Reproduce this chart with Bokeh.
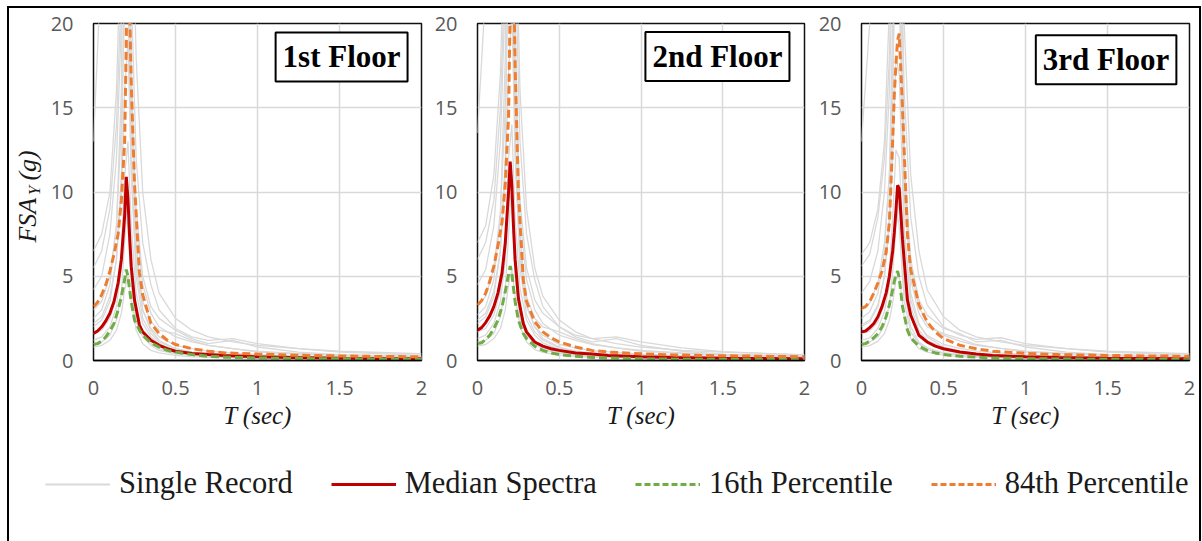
import math

from bokeh.embed import file_html
from bokeh.layouts import column, row
from bokeh.models import FixedTicker, Label, Legend, LegendItem, Range1d
from bokeh.plotting import figure
from bokeh.resources import INLINE

# ---- period grids (sec) ----
T_STAT = [0, 0.025, 0.05, 0.075, 0.1, 0.125, 0.15, 0.17, 0.19, 0.2, 0.21, 0.22, 0.23,
          0.25, 0.28, 0.3, 0.35, 0.4, 0.45, 0.5, 0.6, 0.7, 0.8, 1.0, 1.2, 1.5, 1.75, 2.0]
T_REC = [0, 0.05, 0.1, 0.14, 0.17, 0.19, 0.21, 0.23, 0.26, 0.3, 0.35, 0.4, 0.5, 0.6,
         0.7, 0.85, 1.0, 1.25, 1.5, 2.0]

X_TICKS = [0, 0.5, 1, 1.5, 2]
X_TICK_LABELS = ["0", "0.5", "1", "1.5", "2"]
Y_TICKS = [0, 5, 10, 15, 20]
Y_TICK_LABELS = ["0", "5", "10", "15", "20"]

FLOORS = ["1st Floor", "2nd Floor", "3rd Floor"]
SERIES_NAMES = ["Single Record", "Median Spectra", "16th Percentile", "84th Percentile"]

# ---- 1st floor ----
MED_1 = [1.6, 1.75, 2.0, 2.35, 2.8, 3.5, 4.6, 6.0, 8.6, 10.9, 9.6, 7.4, 5.6,
         3.6, 2.1, 1.7, 1.2, 0.9, 0.7, 0.55, 0.42, 0.35, 0.3, 0.22, 0.18, 0.14, 0.12, 0.1]
P84_1 = [3.2, 3.45, 3.9, 4.5, 5.3, 6.3, 7.5, 9.5, 13.0, 19.0, 28.0, 21.0, 16.5,
         10.5, 5.2, 3.9, 2.2, 1.6, 1.2, 0.95, 0.7, 0.55, 0.45, 0.38, 0.32, 0.27, 0.24, 0.22]
P16_1 = [0.95, 1.0, 1.15, 1.4, 1.75, 2.2, 3.0, 3.8, 4.8, 5.4, 5.0, 4.2, 3.5,
         2.4, 1.8, 1.5, 1.05, 0.8, 0.6, 0.5, 0.35, 0.25, 0.2, 0.15, 0.12, 0.1, 0.09, 0.08]
R1_01 = [13.0, 24, 32, 38, 42, 45, 40, 30, 18, 10, 6.0, 4.0, 2.5, 1.8, 1.4, 1.1, 0.9, 0.7, 0.55, 0.4]
R1_02 = [5.5, 6.5, 9.0, 14, 22, 30, 26, 15, 8.0, 4.5, 2.8, 2.0, 1.4, 1.1, 0.9, 0.7, 0.55, 0.4, 0.3, 0.2]
R1_03 = [2.0, 2.4, 3.5, 6.0, 11, 25, 35, 18, 7.0, 3.0, 1.8, 1.2, 0.7, 0.5, 0.4, 0.3, 0.25, 0.2, 0.15, 0.1]
R1_04 = [1.2, 1.4, 2.0, 3.2, 5.5, 9.0, 8.0, 4.5, 2.3, 1.4, 0.9, 0.6, 0.4, 0.3, 0.25, 0.2, 0.15, 0.12, 0.1, 0.08]
R1_05 = [3.0, 3.5, 5.0, 8.0, 14, 21, 24, 16, 9.0, 5.0, 3.2, 2.5, 1.8, 1.3, 1.0, 1.2, 0.8, 0.5, 0.35, 0.25]
R1_06 = [0.8, 0.9, 1.2, 1.8, 2.8, 4.2, 5.0, 3.5, 1.8, 1.0, 0.6, 0.45, 0.3, 0.22, 0.18, 0.15, 0.12, 0.1, 0.08, 0.06]
R1_07 = [2.5, 3.0, 4.5, 8.0, 16, 40, 30, 12, 5.0, 2.5, 1.6, 1.1, 0.7, 0.5, 0.4, 0.35, 0.3, 0.25, 0.2, 0.15]
R1_08 = [1.6, 1.8, 2.5, 3.8, 6.5, 11, 13, 8.0, 4.0, 2.2, 1.4, 1.0, 0.6, 0.45, 0.35, 0.3, 0.22, 0.18, 0.14, 0.1]
R1_09 = [4.2, 5.0, 7.5, 12, 20, 28, 22, 12, 6.0, 3.5, 2.3, 1.8, 1.6, 1.2, 0.9, 0.7, 0.5, 0.4, 0.3, 0.2]
R1_10 = [1.0, 1.1, 1.5, 2.4, 4.0, 7.0, 10, 6.0, 3.0, 1.6, 1.0, 0.7, 0.45, 0.35, 0.28, 0.22, 0.18, 0.14, 0.11, 0.08]
R1_11 = [6.5, 7.5, 10, 16, 26, 35, 32, 22, 12, 7.0, 4.5, 3.0, 1.9, 1.4, 1.2, 1.3, 1.0, 0.7, 0.5, 0.3]
R1_12 = [2.2, 2.6, 3.8, 6.0, 10, 16, 19, 11, 5.5, 3.0, 1.9, 1.4, 0.9, 0.7, 0.55, 0.45, 0.35, 0.28, 0.22, 0.15]

# ---- 2nd floor ----
MED_2 = [1.8, 1.95, 2.25, 2.65, 3.2, 4.0, 5.2, 7.0, 10.0, 11.8, 10.4, 8.0, 6.0,
         3.7, 2.2, 1.7, 1.1, 0.85, 0.7, 0.6, 0.45, 0.38, 0.3, 0.22, 0.18, 0.14, 0.12, 0.1]
P84_2 = [3.3, 3.55, 4.0, 4.7, 5.6, 6.8, 8.2, 10.5, 14.5, 21.0, 30.0, 24.0, 17.5,
         10.0, 4.8, 3.5, 2.3, 1.7, 1.35, 1.1, 0.8, 0.6, 0.5, 0.4, 0.33, 0.28, 0.25, 0.22]
P16_2 = [1.0, 1.05, 1.25, 1.5, 1.9, 2.4, 3.2, 4.1, 5.1, 5.6, 5.2, 4.3, 3.5,
         2.4, 1.6, 1.3, 0.85, 0.6, 0.45, 0.35, 0.25, 0.18, 0.15, 0.1, 0.08, 0.07, 0.06, 0.05]
R2_01 = [13.5, 22, 30, 36, 40, 44, 38, 28, 16, 9.0, 5.5, 3.8, 2.4, 1.7, 1.3, 1.0, 0.8, 0.6, 0.5, 0.35]
R2_02 = [6.0, 7.0, 9.5, 15, 24, 33, 28, 16, 8.5, 4.8, 3.0, 2.2, 1.5, 1.2, 0.95, 0.75, 0.6, 0.45, 0.32, 0.22]
R2_03 = [2.2, 2.6, 3.8, 6.5, 12, 28, 38, 20, 7.5, 3.3, 2.0, 1.3, 0.8, 0.55, 0.45, 0.35, 0.28, 0.22, 0.16, 0.11]
R2_04 = [1.3, 1.5, 2.2, 3.5, 6.0, 10, 9.0, 5.0, 2.5, 1.5, 1.0, 0.65, 0.42, 0.32, 0.26, 0.2, 0.16, 0.13, 0.1, 0.08]
R2_05 = [3.3, 3.8, 5.5, 8.8, 15, 23, 26, 17, 9.5, 5.5, 3.6, 2.8, 2.0, 1.4, 1.1, 1.3, 0.9, 0.55, 0.38, 0.26]
R2_06 = [0.85, 0.95, 1.3, 1.9, 3.0, 4.5, 5.4, 3.8, 2.0, 1.1, 0.65, 0.48, 0.32, 0.24, 0.19, 0.16, 0.13, 0.1, 0.08, 0.06]
R2_07 = [2.7, 3.2, 4.8, 8.5, 18, 45, 33, 13, 5.5, 2.7, 1.7, 1.2, 0.75, 0.55, 0.42, 0.38, 0.32, 0.26, 0.2, 0.15]
R2_08 = [1.7, 1.9, 2.7, 4.1, 7.0, 12, 14, 8.5, 4.3, 2.4, 1.5, 1.05, 0.65, 0.48, 0.38, 0.32, 0.24, 0.19, 0.15, 0.1]
R2_09 = [4.5, 5.4, 8.0, 13, 22, 30, 24, 13, 6.5, 3.8, 2.5, 2.0, 1.7, 1.3, 1.0, 0.75, 0.55, 0.42, 0.32, 0.22]
R2_10 = [1.1, 1.2, 1.6, 2.6, 4.3, 7.5, 11, 6.5, 3.2, 1.7, 1.05, 0.75, 0.48, 0.37, 0.3, 0.24, 0.19, 0.15, 0.12, 0.09]
R2_11 = [7.0, 8.0, 11, 17, 28, 38, 34, 24, 13, 7.5, 4.8, 3.2, 2.0, 1.5, 1.3, 1.4, 1.1, 0.75, 0.52, 0.32]
R2_12 = [2.4, 2.8, 4.1, 6.5, 11, 17, 21, 12, 6.0, 3.2, 2.0, 1.5, 0.95, 0.75, 0.58, 0.48, 0.37, 0.3, 0.23, 0.16]

# ---- 3rd floor ----
MED_3 = [1.7, 1.75, 1.95, 2.2, 2.6, 3.2, 4.0, 5.0, 6.5, 7.6, 8.9, 10.4, 10.2,
         7.2, 3.6, 2.7, 1.5, 1.1, 0.85, 0.7, 0.5, 0.38, 0.3, 0.22, 0.18, 0.14, 0.12, 0.1]
P84_3 = [3.1, 3.2, 3.5, 4.0, 4.6, 5.3, 6.4, 8.2, 13.0, 15.8, 17.6, 19.0, 19.4,
         15.0, 7.5, 5.4, 3.3, 2.3, 1.7, 1.3, 0.9, 0.7, 0.55, 0.42, 0.35, 0.3, 0.27, 0.25]
P16_3 = [0.95, 1.0, 1.15, 1.35, 1.6, 2.0, 2.6, 3.3, 4.2, 4.7, 5.1, 5.3, 4.9,
         3.2, 1.8, 1.35, 0.85, 0.6, 0.45, 0.35, 0.25, 0.2, 0.15, 0.11, 0.09, 0.07, 0.06, 0.05]
R3_01 = [13.0, 20, 27, 33, 38, 42, 44, 34, 20, 11, 6.5, 4.2, 2.6, 1.8, 1.4, 1.1, 0.9, 0.7, 0.55, 0.4]
R3_02 = [5.6, 6.3, 8.5, 12, 18, 26, 32, 24, 11, 5.5, 3.2, 2.2, 1.5, 1.15, 0.9, 0.72, 0.56, 0.42, 0.3, 0.2]
R3_03 = [2.0, 2.3, 3.2, 5.0, 8.5, 15, 30, 36, 12, 4.0, 2.2, 1.4, 0.8, 0.55, 0.42, 0.32, 0.26, 0.2, 0.15, 0.1]
R3_04 = [1.2, 1.35, 1.9, 2.9, 4.5, 6.5, 9.0, 8.0, 3.5, 1.7, 1.0, 0.65, 0.42, 0.3, 0.25, 0.2, 0.15, 0.12, 0.1, 0.08]
R3_05 = [3.0, 3.4, 4.6, 7.0, 11, 17, 25, 22, 12, 6.0, 3.6, 2.7, 1.9, 1.6, 1.1, 1.2, 0.8, 0.5, 0.35, 0.25]
R3_06 = [0.8, 0.88, 1.15, 1.6, 2.4, 3.4, 4.8, 5.0, 2.6, 1.3, 0.7, 0.5, 0.32, 0.23, 0.18, 0.15, 0.12, 0.1, 0.08, 0.06]
R3_07 = [2.5, 2.9, 4.0, 6.5, 11, 20, 42, 28, 8.0, 3.2, 1.8, 1.2, 0.75, 0.52, 0.4, 0.35, 0.3, 0.25, 0.2, 0.15]
R3_08 = [1.6, 1.75, 2.3, 3.4, 5.3, 8.5, 12.5, 12, 5.5, 2.6, 1.5, 1.05, 0.62, 0.46, 0.36, 0.3, 0.22, 0.18, 0.14, 0.1]
R3_09 = [4.0, 4.7, 6.5, 10, 16, 24, 30, 22, 10, 4.8, 2.8, 2.0, 1.6, 1.3, 0.95, 0.72, 0.5, 0.4, 0.3, 0.2]
R3_10 = [1.0, 1.1, 1.4, 2.1, 3.3, 5.2, 8.0, 9.5, 4.2, 2.0, 1.1, 0.75, 0.46, 0.36, 0.28, 0.22, 0.18, 0.14, 0.11, 0.08]
R3_11 = [6.3, 7.0, 9.0, 13, 21, 30, 38, 30, 16, 8.5, 5.0, 3.3, 2.0, 1.5, 1.25, 1.35, 1.0, 0.7, 0.5, 0.3]
R3_12 = [2.1, 2.4, 3.3, 5.0, 8.0, 12, 18, 17, 7.5, 3.6, 2.1, 1.5, 0.95, 0.72, 0.56, 0.45, 0.35, 0.28, 0.22, 0.15]

RECORDS_1 = [R1_01, R1_02, R1_03, R1_04, R1_05, R1_06, R1_07, R1_08, R1_09, R1_10, R1_11, R1_12]
RECORDS_2 = [R2_01, R2_02, R2_03, R2_04, R2_05, R2_06, R2_07, R2_08, R2_09, R2_10, R2_11, R2_12]
RECORDS_3 = [R3_01, R3_02, R3_03, R3_04, R3_05, R3_06, R3_07, R3_08, R3_09, R3_10, R3_11, R3_12]

# ---- styling ----
GRAY = "#d9d9d9"
RED = "#c00000"
GREEN = "#70ad47"
ORANGE = "#ed7d31"
DASH = "8 4"
TICK_FONT = "Open Sans"
SERIF = "Liberation Serif"
TEXT_DARK = "#1a1a1a"
TICK_COLOR = "#595959"

PANEL_H = 432
FRAME_TOP = 15
FRAME_BOTTOM = 80


def make_panel(title, records, med, p16, p84, width, left, right, title_pos):
    p = figure(width=width, height=PANEL_H, x_range=Range1d(0, 2), y_range=Range1d(0, 20),
               output_backend="svg", toolbar_location=None,
               min_border_left=left, min_border_right=right,
               min_border_top=FRAME_TOP, min_border_bottom=FRAME_BOTTOM)
    p.background_fill_color = "white"
    p.border_fill_color = "white"
    p.outline_line_color = "#111111"
    p.outline_line_width = 1.5

    p.xaxis.ticker = FixedTicker(ticks=X_TICKS)
    p.yaxis.ticker = FixedTicker(ticks=Y_TICKS)
    p.xaxis.major_label_overrides = dict(zip(X_TICKS, X_TICK_LABELS))
    p.yaxis.major_label_overrides = dict(zip(Y_TICKS, Y_TICK_LABELS))
    for ax in (p.xaxis[0], p.yaxis[0]):
        ax.major_tick_line_color = None
        ax.minor_tick_line_color = None
        ax.major_tick_out = 0
        ax.major_tick_in = 0
        ax.minor_tick_out = 0
        ax.minor_tick_in = 0
        ax.major_label_text_font = TICK_FONT
        ax.major_label_text_font_size = "20px"
        ax.major_label_text_color = TICK_COLOR
    p.yaxis.axis_line_color = None
    p.yaxis.major_label_standoff = 20
    p.xaxis.axis_line_color = "black"
    p.xaxis.axis_line_width = 1.5
    p.xaxis.major_label_standoff = 20
    p.xaxis.axis_label = "T (sec)"
    p.xaxis.axis_label_text_font = SERIF
    p.xaxis.axis_label_text_font_style = "italic"
    p.xaxis.axis_label_text_font_size = "25px"
    p.xaxis.axis_label_text_color = TEXT_DARK
    p.xaxis.axis_label_standoff = 4

    p.xgrid.ticker = FixedTicker(ticks=X_TICKS)
    p.ygrid.ticker = FixedTicker(ticks=Y_TICKS)
    p.grid.grid_line_color = GRAY
    p.grid.grid_line_width = 1.5

    p.multi_line(xs=[T_REC] * len(records), ys=records, line_color=GRAY, line_width=1.3)
    p.line(T_STAT, med, line_color=RED, line_width=3)
    p.line(T_STAT, p16, line_color=GREEN, line_width=3, line_dash=DASH)
    p.line(T_STAT, p84, line_color=ORANGE, line_width=3, line_dash=DASH)

    p.add_layout(Label(x=title_pos[0], y=title_pos[1], text=title,
                       text_align="right", text_baseline="top",
                       text_font=SERIF, text_font_style="bold", text_font_size="31px",
                       text_color="black", padding=7,
                       border_line_color="black", border_line_width=2,
                       background_fill_color="white"))
    return p


p1 = make_panel(FLOORS[0], RECORDS_1, MED_1, P16_1, P84_1, 387, 50, 9, (1.915, 19.47))
p2 = make_panel(FLOORS[1], RECORDS_2, MED_2, P16_2, P84_2, 382, 47, 8, (1.908, 19.5))
p3 = make_panel(FLOORS[2], RECORDS_3, MED_3, P16_3, P84_3, 387, 49, 10, (1.92, 19.3))

# narrow strip holding the vertical title FSA_Y (g); its frame and value scale
# are the same as the panels' so the pieces can be placed in g units
ytitle = figure(width=34, height=PANEL_H, x_range=Range1d(0, 34), y_range=Range1d(0, 20),
                output_backend="svg", toolbar_location=None,
                x_axis_location=None, y_axis_location=None,
                min_border_left=0, min_border_right=0,
                min_border_top=FRAME_TOP, min_border_bottom=FRAME_BOTTOM)
ytitle.outline_line_color = None
ytitle.grid.visible = False
ylab_font = dict(text_font=SERIF, text_font_style="italic", text_color=TEXT_DARK,
                 angle=math.pi / 2, text_align="left", text_baseline="middle")
ytitle.add_layout(Label(x=18, y=7.0, text="FSA", text_font_size="26px", **ylab_font))
ytitle.add_layout(Label(x=25, y=9.8, text="Y", text_font_size="17px", **ylab_font))
ytitle.add_layout(Label(x=18, y=10.68, text="(g)", text_font_size="26px", **ylab_font))

# shared legend strip; its helper lines sit outside the strip's visible range
leg = figure(width=1190, height=101, x_range=Range1d(10, 11), y_range=Range1d(10, 11),
             output_backend="svg", toolbar_location=None,
             x_axis_location=None, y_axis_location=None,
             min_border=0)
leg.outline_line_color = None
leg.grid.visible = False
r_rec = leg.line(T_REC, R1_01, line_color=GRAY, line_width=2)
r_med = leg.line(T_STAT, MED_1, line_color=RED, line_width=3)
r_p16 = leg.line(T_STAT, P16_1, line_color=GREEN, line_width=3, line_dash="6 3")
r_p84 = leg.line(T_STAT, P84_1, line_color=ORANGE, line_width=3, line_dash="6 3")
legend = Legend(items=[LegendItem(label=SERIES_NAMES[0], renderers=[r_rec]),
                       LegendItem(label=SERIES_NAMES[1], renderers=[r_med]),
                       LegendItem(label=SERIES_NAMES[2], renderers=[r_p16]),
                       LegendItem(label=SERIES_NAMES[3], renderers=[r_p84])],
                orientation="horizontal", location=(36, 40),
                glyph_width=65, glyph_height=30, label_standoff=9, spacing=38,
                padding=0, margin=0, border_line_color=None, background_fill_alpha=0,
                label_text_font=SERIF, label_text_font_size="30.5px",
                label_text_color=TEXT_DARK)
leg.add_layout(legend)

layout = column(row(ytitle, p1, p2, p3), leg, margin=(6, 0, 0, 7),
                styles={"border-top": "2px solid black", "border-left": "2px solid black",
                        "border-right": "2px solid black"})

open("out.html", "w").write(file_html(layout, INLINE))
